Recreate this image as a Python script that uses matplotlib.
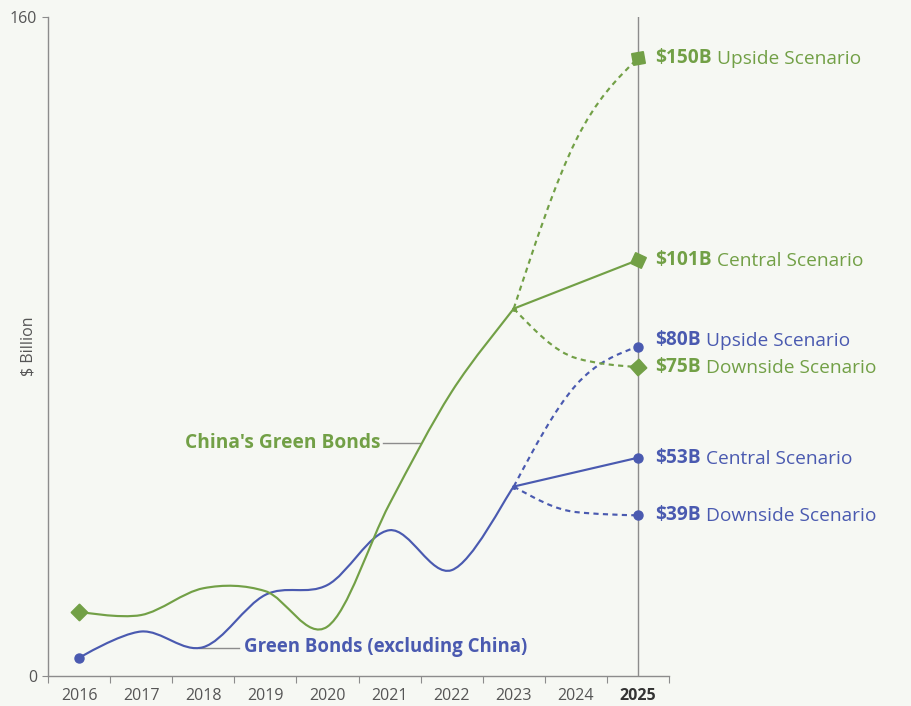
"""
    Green bond issuance: China vs rest of world, with 2025 scenarios
"""

import matplotlib
matplotlib.use('Agg')
import numpy as np
import matplotlib.pyplot as plt
from matplotlib.path import Path
from matplotlib.patches import PathPatch

# data ($ billion)
years = [2016, 2017, 2018, 2019, 2020, 2021, 2022, 2023]
china = [15.6, 14.8, 21.3, 20.6, 12.0, 41.8, 69.0, 89.2]
world = [4.4, 10.8, 7.0, 19.7, 22.1, 35.4, 25.7, 46.0]

proj_years = [2023, 2024, 2025]
china_up = [89.2, 130.0, 150]
china_down = [89.2, 77.2, 75]
world_up = [46.0, 70.6, 80]
world_down = [46.0, 39.8, 39]
central_years = [2023, 2025]
china_central = [89.2, 101]
world_central = [46.0, 53]

xticklabels = ['2016', '2017', '2018', '2019', '2020', '2021', '2022', '2023', '2024', '2025']

GREEN = '#72a046'
BLUE = '#4a5ab0'
GRAY = '#8c8c8c'
BG = '#f6f8f3'

plt.rcParams['font.family'] = ['Open Sans', 'DejaVu Sans']


def cardinal_path(xs, ys, k=1.0 / 6):
    # catmull-rom style smooth curve (like d3 curveCardinal)
    pts = list(zip(xs, ys))
    n = len(pts)
    verts = [pts[0]]
    codes = [Path.MOVETO]
    for i in range(n - 1):
        p0 = pts[i - 1] if i > 0 else pts[i + 1]
        p1 = pts[i]
        p2 = pts[i + 1]
        p3 = pts[i + 2] if i + 2 < n else pts[i + 1]
        if i == 0:
            c1 = p1
        else:
            c1 = (p1[0] + k * (p2[0] - p0[0]), p1[1] + k * (p2[1] - p0[1]))
        if i + 2 < n:
            c2 = (p2[0] + k * (p1[0] - p3[0]), p2[1] + k * (p1[1] - p3[1]))
        else:
            c2 = (p2[0] + k * (p1[0] - p2[0]), p2[1] + k * (p1[1] - p2[1]))
        verts += [c1, c2, p2]
        codes += [Path.CURVE4] * 3
    return Path(verts, codes)


def monotone_path(xs, ys):
    # monotone cubic (like d3 curveMonotoneX)
    x = np.asarray(xs, float)
    y = np.asarray(ys, float)
    n = len(x)
    h = np.diff(x)
    s = np.diff(y) / h
    t = np.zeros(n)
    for i in range(1, n - 1):
        p = (s[i - 1] * h[i] + s[i] * h[i - 1]) / (h[i - 1] + h[i])
        t[i] = (np.sign(s[i - 1]) + np.sign(s[i])) * min(abs(s[i - 1]), abs(s[i]), 0.5 * abs(p))
    t[0] = (3 * s[0] - t[1]) / 2
    t[-1] = (3 * s[-1] - t[-2]) / 2
    verts = [(x[0], y[0])]
    codes = [Path.MOVETO]
    for i in range(n - 1):
        d = h[i] / 3
        verts += [(x[i] + d, y[i] + d * t[i]), (x[i + 1] - d, y[i + 1] - d * t[i + 1]), (x[i + 1], y[i + 1])]
        codes += [Path.CURVE4] * 3
    return Path(verts, codes)


def draw(ax, path, color, dashed=False, z=3):
    ls = (0, (2.4, 2.0)) if dashed else '-'
    ax.add_patch(PathPatch(path, fill=False, edgecolor=color, lw=1.55,
                           linestyle=ls, zorder=z, capstyle='butt'))


fig = plt.figure(figsize=(9.11, 7.06), dpi=100, facecolor=BG)
ax = fig.add_axes([48 / 911, 30 / 706, 621 / 911, 659 / 706])
ax.set_facecolor(BG)

ax.axvline(2025, color=GRAY, lw=1, zorder=1)

# history
draw(ax, cardinal_path(years, china), GREEN, z=4)
draw(ax, cardinal_path(years, world), BLUE, z=3)

# scenarios
draw(ax, monotone_path(proj_years, world_up), BLUE, dashed=True, z=3)
draw(ax, monotone_path(proj_years, world_down), BLUE, dashed=True, z=3)
ax.plot(central_years, world_central, color=BLUE, lw=1.55, zorder=3)
draw(ax, monotone_path(proj_years, china_up), GREEN, dashed=True, z=4)
draw(ax, monotone_path(proj_years, china_down), GREEN, dashed=True, z=4)
ax.plot(central_years, china_central, color=GREEN, lw=1.55, zorder=4)

# markers
ax.plot(years[0], china[0], marker=(4, 0, 0), ms=12, color=GREEN, zorder=5, ls='none')
ax.plot(years[0], world[0], marker='o', ms=6.5, color=BLUE, zorder=5, ls='none')
for vals, ang in [(china_up, 55), (china_central, 20), (china_down, -3)]:
    ax.plot(proj_years[-1], vals[-1], marker=(4, 0, ang), ms=12, color=GREEN, zorder=5, ls='none')
for vals in [world_up, world_central, world_down]:
    ax.plot(proj_years[-1], vals[-1], marker='o', ms=6.5, color=BLUE, zorder=5, ls='none')
ax.plot(2023, china[-1], marker='o', ms=2.5, color=GREEN, zorder=5)
ax.plot(2023, world[-1], marker='o', ms=2.5, color=BLUE, zorder=5)

# scenario labels
labels = [
    (china_up[-1], '$150B', 'Upside Scenario', GREEN, 0),
    (china_central[-1], '$101B', 'Central Scenario', GREEN, 0),
    (world_up[-1], '$80B', 'Upside Scenario', BLUE, 6),
    (china_down[-1], '$75B', 'Downside Scenario', GREEN, 0),
    (world_central[-1], '$53B', 'Central Scenario', BLUE, 0),
    (world_down[-1], '$39B', 'Downside Scenario', BLUE, 0),
]
for val, amt, name, col, dy in labels:
    t = ax.annotate(amt, xy=(2025, val), xytext=(17, dy), textcoords='offset pixels',
                    ha='left', va='center', fontsize=13.8, fontweight='bold', color=col,
                    annotation_clip=False)
    ax.annotate(name, xy=(1, 0), xycoords=t, xytext=(5, 0), textcoords='offset pixels',
                ha='left', va='bottom', fontsize=13.8, color=col, annotation_clip=False)

# series names with leader lines
ax.text(2020.86, 56.6, "China's Green Bonds", ha='right', va='center',
        fontsize=13.8, fontweight='bold', color=GREEN)
ax.plot([2020.9, 2021.49], [56.6, 56.6], color=GRAY, lw=1, zorder=2)
ax.text(2018.66, 7.0, 'Green Bonds (excluding China)', ha='left', va='center',
        fontsize=13.4, fontweight='bold', color=BLUE)
ax.plot([2017.93, 2018.58], [6.8, 6.8], color=GRAY, lw=1, zorder=2)

# axes
ax.set_xlim(2015.5, 2025.5)
ax.set_ylim(0, 160)
for s in ['top', 'right']:
    ax.spines[s].set_visible(False)
for s in ['left', 'bottom']:
    ax.spines[s].set_color(GRAY)
    ax.spines[s].set_linewidth(1)

edges = [y - 0.5 for y in range(2016, 2027)]
ax.set_xticks(edges)
ax.set_xticklabels([])
ax.set_xticks(range(2016, 2026), minor=True)
ax.set_xticklabels(xticklabels, minor=True)
ax.tick_params(axis='x', which='major', length=5, color=GRAY)
ax.tick_params(axis='x', which='minor', length=0, pad=9, labelsize=11.5, labelcolor='#555555')
for lab in ax.get_xticklabels(minor=True):
    if lab.get_text() == '2025':
        lab.set_fontweight('bold')
        lab.set_color('#333333')

ax.set_yticks([0, 160])
ax.tick_params(axis='y', length=4, color=GRAY, labelsize=11.5, labelcolor='#555555', pad=4)
ax.set_ylabel('$ Billion', fontsize=11.5, color='#555555')
ax.yaxis.set_label_coords(-0.018, 0.5)

fig.savefig('out.png', dpi=100, facecolor=BG)
